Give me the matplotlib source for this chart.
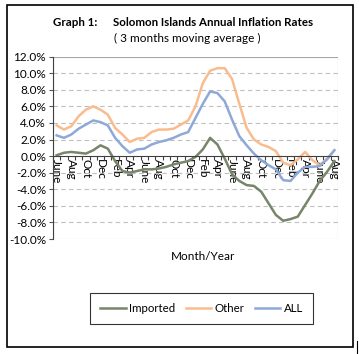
import matplotlib
matplotlib.use("Agg")
import matplotlib.pyplot as plt
from matplotlib.patches import Rectangle
from matplotlib.lines import Line2D
import numpy as np

# month labels (every second month is labelled on the axis)
months = ["June", "Jul", "Aug", "Sep", "Oct", "Nov", "Dec", "Jan", "Feb", "Mar", "Apr", "May"] * 3 + ["June", "Jul", "Aug"]

imported = [0.1, 0.4, 0.5, 0.4, 0.3, 0.7, 1.3, 0.9, -0.6, -1.8, -2.0, -1.8,
            -1.6, -1.6, -1.5, -1.3, -1.0, -0.8, -0.6, -0.1, 0.8, 2.2, 1.4, -0.3,
            -2.2, -3.0, -3.5, -3.6, -4.3, -5.7, -7.1, -7.8, -7.6, -7.3, -5.9, -4.5,
            -3.0, -1.9, -0.6]
other = [3.7, 3.2, 3.6, 4.8, 5.6, 6.0, 5.6, 5.0, 3.4, 2.6, 1.7, 2.1,
         2.2, 2.9, 3.2, 3.2, 3.3, 3.8, 4.3, 6.0, 8.8, 10.3, 10.6, 10.6,
         9.3, 6.3, 3.4, 2.0, 1.4, 1.1, 0.6, -0.8, -1.1, -0.4, 0.5, -0.5,
         -1.1, -0.3, 0.7]
all_items = [2.5, 2.2, 2.6, 3.3, 3.8, 4.3, 4.1, 3.7, 2.2, 1.2, 0.4, 0.8,
             0.9, 1.4, 1.7, 1.9, 2.2, 2.6, 2.9, 4.6, 6.3, 7.8, 7.6, 6.6,
             4.4, 2.4, 1.3, 0.3, -0.5, -1.1, -1.6, -2.9, -3.0, -2.0, -1.3, -1.3,
             -1.2, -0.4, 0.7]

yticks = np.arange(-10, 12.1, 2)

W, H = 359, 354
plt.rcParams["font.family"] = ["Lato", "DejaVu Sans"]


def fx(px):
    return px / W


def fy(py):
    return 1 - py / H


fig = plt.figure(figsize=(W / 100, H / 100), dpi=100)
ax = fig.add_axes([fx(53), fy(239), fx(338) - fx(53), fy(56.6) - fy(239)])

x = np.arange(len(months))
ax.plot(x, imported, color="#77866A", lw=1.8, label="Imported")
ax.plot(x, other, color="#F9BC8E", lw=1.8, label="Other")
ax.plot(x, all_items, color="#8EA9D8", lw=1.8, label="ALL")

ax.set_xlim(-0.5, len(months) - 0.5)
ax.set_ylim(-10, 12)
ax.set_yticks(yticks)
ax.set_yticklabels([f"{v:.1f}%" for v in yticks], fontsize=8.5)
ax.tick_params(axis="y", length=3, width=0.8, pad=2, color="#555555")
for v in yticks[1:-1]:
    if v != 0:
        ax.axhline(v, color="#BFBFBF", lw=0.8, ls=(0, (4, 3)), zorder=0)

# category axis crossing at 0
ax.spines["bottom"].set_position(("data", 0))
ax.spines["bottom"].set_color("#404040")
ax.spines["left"].set_color("#404040")
for s in ("top", "right"):
    ax.spines[s].set_visible(False)
ax.add_patch(Rectangle((0, 0), 1, 1, transform=ax.transAxes, fill=False,
                       edgecolor="#A6A6A6", lw=0.8, zorder=0))
ax.set_xticks(x[::2])
ax.set_xticklabels(months[::2], rotation=-90, fontsize=8.5, va="top", ha="center")
ax.set_xticks(np.arange(-0.5, len(months), 1), minor=True)
ax.tick_params(axis="x", which="major", length=0, pad=2)
ax.tick_params(axis="x", which="minor", length=3, width=0.8, color="#404040")

fig.text(fx(53), fy(22.5), "Graph 1:", fontsize=8.3, fontweight="bold", ha="left", va="center")
fig.text(fx(113), fy(22.5), "Solomon Islands Annual Inflation Rates", fontsize=8.3,
         fontweight="bold", ha="left", va="center")
fig.text(fx(187.5), fy(38), "( 3 months moving average )", fontsize=8.5, ha="center", va="center")
fig.text(fx(203), fy(256), "Month/Year", fontsize=8.5, ha="center", va="center")

leg = ax.legend(loc="center", bbox_to_anchor=(fx(201.5), fy(308.5)),
                bbox_transform=fig.transFigure, ncol=3, fontsize=8.3,
                frameon=True, fancybox=False, edgecolor="black",
                handlelength=2.2, handletextpad=0.3, columnspacing=0.9,
                borderpad=0.9, borderaxespad=0)
leg.get_frame().set_linewidth(0.8)

fig.add_artist(Rectangle((fx(7), fy(347)), fx(353) - fx(7), fy(5) - fy(347),
                         transform=fig.transFigure, fill=False, edgecolor="black", lw=1.2))
fig.add_artist(Line2D([fx(357), fx(357)], [fy(341), fy(354)], transform=fig.transFigure,
                      color="black", lw=0.8))

fig.savefig("out.png", dpi=100)
